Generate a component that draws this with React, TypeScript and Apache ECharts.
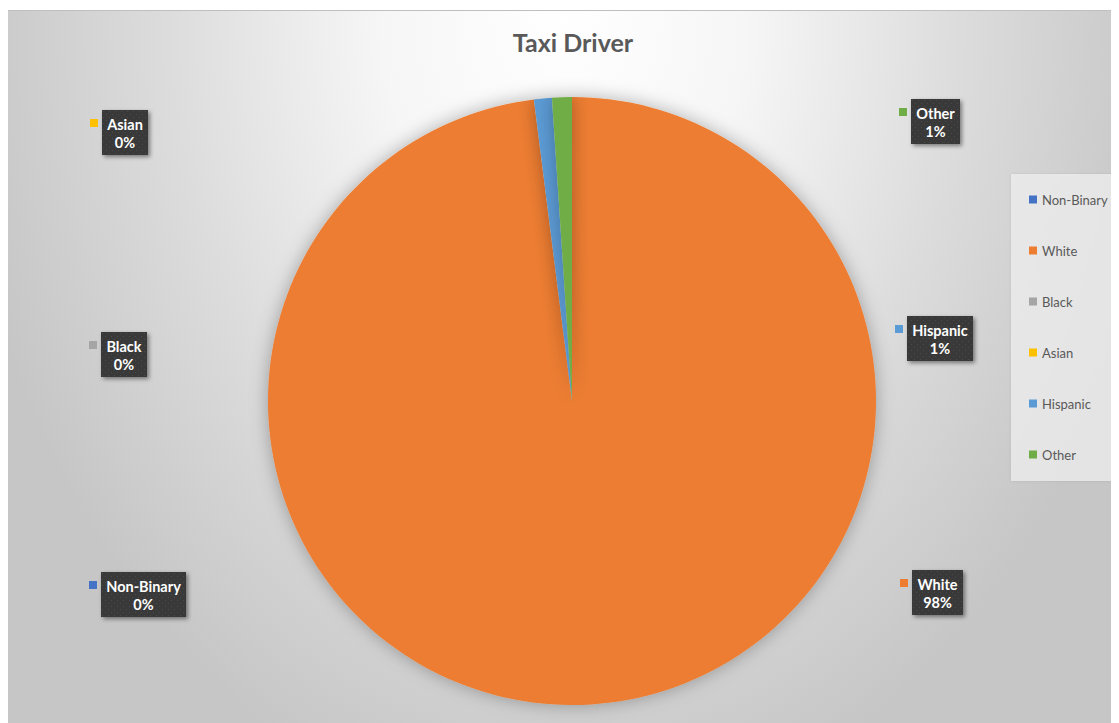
import React, { useEffect, useRef } from "react";
import * as echarts from "echarts";

const categories = ["Non-Binary", "White", "Black", "Asian", "Hispanic", "Other"];
const shares = [0, 98.0, 0, 0, 0.95, 1.05];
const sliceColors = ["#4472C4", "#ED7D31", "#A5A5A5", "#FFC000", "#5B9BD5", "#70AD47"];
const chartTitle = "Taxi Driver";

// label box top-left positions (container coordinates)
const labelPos: [number, number][] = [
  [93, 561],
  [904, 559],
  [93, 321],
  [94, 99],
  [899, 305],
  [903, 88],
];

const LABEL_FONT = "bold 14.5px Lato, sans-serif";

function measure(text: string, font: string): number {
  const c = document.createElement("canvas");
  const ctx = c.getContext("2d");
  if (!ctx) return text.length * 8;
  ctx.font = font;
  return ctx.measureText(text).width;
}

function makePattern(): string | null {
  const c = document.createElement("canvas");
  c.width = 6;
  c.height = 6;
  const ctx = c.getContext("2d");
  if (!ctx) return null;
  ctx.fillStyle = "#393939";
  ctx.fillRect(0, 0, 6, 6);
  ctx.fillStyle = "#4a4a4a";
  ctx.fillRect(1, 1, 1, 1);
  ctx.fillRect(4, 4, 1, 1);
  return c.toDataURL();
}

export default function App() {
  const ref = useRef<HTMLDivElement>(null);
  useEffect(() => {
    if (!ref.current) return;
    const chart = echarts.init(ref.current, undefined, { renderer: "svg" });
    const total = shares.reduce((a, b) => a + b, 0);
    const pat = makePattern();
    const boxFill: any = pat ? { image: pat, repeat: "repeat" } : "#3a3a3a";
    const labels: any[] = [];
    categories.forEach((name, i) => {
      const pct = Math.round((shares[i] / total) * 100) + "%";
      const w = Math.ceil(Math.max(measure(name, LABEL_FONT), measure(pct, LABEL_FONT))) + 10;
      const h = 45;
      const [lx, ly] = labelPos[i];
      labels.push({
        type: "group",
        x: lx,
        y: ly,
        children: [
          {
            type: "rect",
            shape: { x: 0, y: 0, width: w, height: h },
            style: {
              fill: "#3a3a3a",
              shadowBlur: 4,
              shadowOffsetX: 2,
              shadowOffsetY: 2,
              shadowColor: "rgba(0,0,0,0.45)",
            },
          },
          {
            type: "rect",
            shape: { x: 0, y: 0, width: w, height: h },
            style: { fill: boxFill },
          },
          {
            type: "text",
            x: w / 2,
            y: 14,
            style: {
              text: name,
              font: LABEL_FONT,
              fill: "#ffffff",
              align: "center",
              verticalAlign: "middle",
              textAlign: "center",
              textVerticalAlign: "middle",
            },
          },
          {
            type: "text",
            x: w / 2,
            y: 32,
            style: {
              text: pct,
              font: LABEL_FONT,
              fill: "#ffffff",
              align: "center",
              verticalAlign: "middle",
              textAlign: "center",
              textVerticalAlign: "middle",
            },
          },
          {
            type: "rect",
            shape: { x: -12, y: 9, width: 8, height: 8 },
            style: { fill: sliceColors[i] },
          },
        ],
      });
    });

    chart.setOption({
      animation: false,
      backgroundColor: "transparent",
      color: sliceColors,
      title: {
        text: chartTitle,
        left: 560,
        top: 13,
        textAlign: "center",
        textStyle: {
          fontFamily: "Lato, sans-serif",
          fontWeight: "bold",
          fontSize: 25,
          color: "#595959",
        },
      },
      legend: {
        orient: "vertical",
        left: 1003,
        top: 163,
        padding: [19, 20, 20, 18],
        itemGap: 38,
        itemWidth: 8,
        itemHeight: 8,
        icon: "rect",
        backgroundColor: "rgba(240,240,240,0.75)",
        shadowBlur: 3,
        shadowColor: "rgba(0,0,0,0.12)",
        data: categories,
        textStyle: {
          fontFamily: "Lato, sans-serif",
          fontSize: 13,
          color: "#595959",
        },
        selectedMode: false,
      },
      series: [
        {
          type: "pie",
          center: [564, 390],
          radius: 304,
          startAngle: 90,
          clockwise: true,
          label: { show: false },
          labelLine: { show: false },
          emphasis: { disabled: true },
          itemStyle: {
            shadowBlur: 18,
            shadowColor: "rgba(0,0,0,0.3)",
          },
          data: categories.map((name, i) => ({ name, value: shares[i] })),
        },
      ],
      graphic: labels,
    });
    return () => chart.dispose();
  }, []);

  return (
    <div
      style={{
        marginTop: 2,
        width: 1111,
        borderTop: "1px solid #bfbfbf",
        background:
          "radial-gradient(ellipse 55% 115% at 50% 0%, #ffffff 0%, #f6f6f6 30%, #dcdcdc 65%, #c6c6c6 100%)",
      }}
    >
      <div ref={ref} style={{ width: 1111, height: 712 }} />
    </div>
  );
}
